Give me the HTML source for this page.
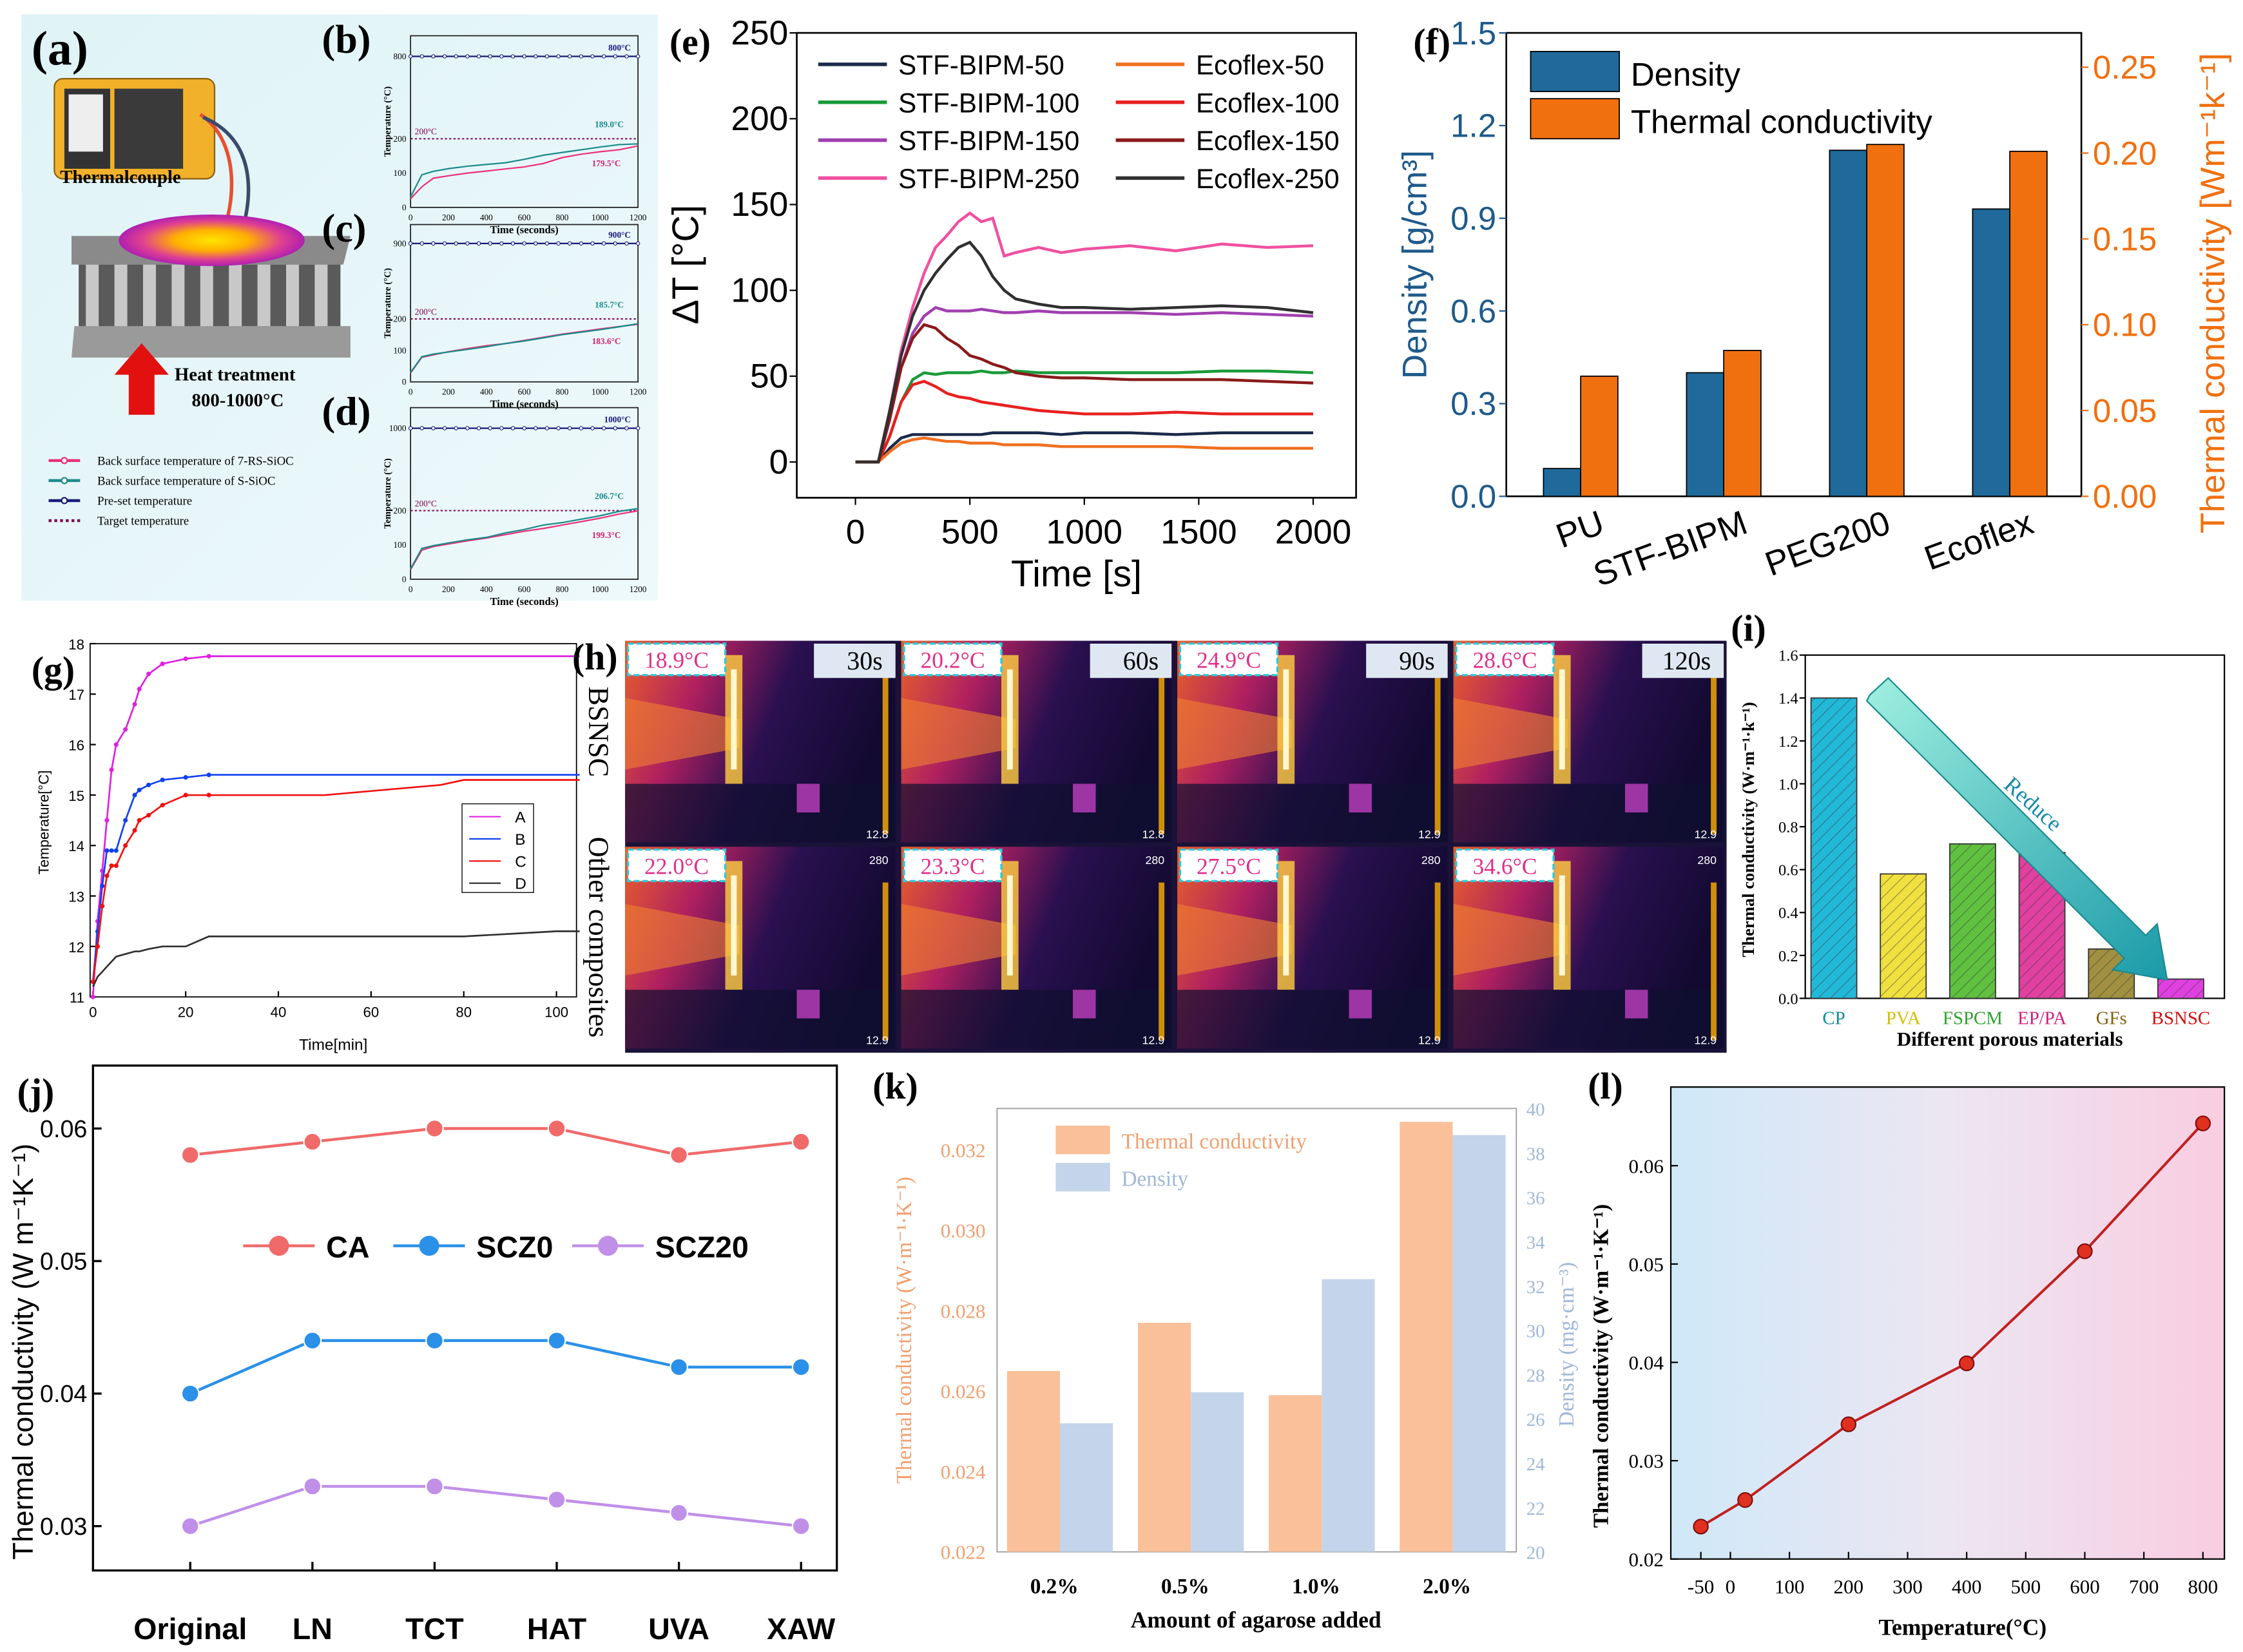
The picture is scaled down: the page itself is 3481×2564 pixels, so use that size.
<!DOCTYPE html>
<html><head><meta charset="utf-8"><style>
html,body{margin:0;padding:0;background:#fff}
svg{display:block}
text{font-family:"Liberation Sans",sans-serif}
.serif{font-family:"Liberation Serif",serif}
</style></head><body>
<svg id="fig" xmlns="http://www.w3.org/2000/svg" width="3481" height="2564" viewBox="0 0 1568 1155" preserveAspectRatio="none">
<defs>
<linearGradient id="bgA" x1="0" y1="0" x2="1" y2="1"><stop offset="0" stop-color="#dff3f6"/><stop offset="1" stop-color="#eef9fb"/></linearGradient>
<radialGradient id="hot" cx="0.5" cy="0.5" r="0.5"><stop offset="0" stop-color="#ffe600"/><stop offset="0.4" stop-color="#ffb000"/><stop offset="0.75" stop-color="#e04090"/><stop offset="1" stop-color="#b020b0"/></radialGradient>
<linearGradient id="bgL" x1="0" y1="0" x2="1" y2="0"><stop offset="0" stop-color="#cfe8f8"/><stop offset="0.5" stop-color="#ece6f2"/><stop offset="1" stop-color="#f9cde0"/></linearGradient>
<linearGradient id="therm" x1="0" y1="0" x2="1" y2="0.3"><stop offset="0" stop-color="#e8602a"/><stop offset="0.3" stop-color="#b02060"/><stop offset="0.6" stop-color="#2a1050"/><stop offset="1" stop-color="#120a30"/></linearGradient>
<linearGradient id="arrowG" x1="0" y1="0" x2="1" y2="1"><stop offset="0" stop-color="#a0f0e0"/><stop offset="1" stop-color="#1a9aa8"/></linearGradient>
<pattern id="hatch" width="6" height="6" patternUnits="userSpaceOnUse" patternTransform="rotate(45)"><line x1="0" y1="0" x2="0" y2="6" stroke="#333" stroke-width="1" opacity="0.5"/></pattern>
</defs>
<g id="root"></g>
</svg>
<script>
// ---------- DATA ----------
const eTime=[0,100,150,200,250,300,350,400,450,500,550,600,650,700,800,900,1000,1200,1400,1600,1800,2000];
const eS50=[0,0,8,14,16,16,16,16,16,16,16,17,17,17,17,16,17,17,16,17,17,17];
const eS100=[0,0,15,35,48,52,51,52,52,52,53,52,52,53,52,52,52,52,52,53,53,52];
const eS150=[0,0,25,55,75,85,90,88,88,88,89,88,87,87,88,87,87,87,86,87,86,85];
const eS250=[0,0,30,65,90,110,125,132,140,145,140,142,120,122,125,122,124,126,123,127,125,126];
const eE50=[0,0,6,11,13,14,13,12,12,11,11,11,10,10,10,9,9,9,9,8,8,8];
const eE100=[0,0,15,35,45,47,44,40,38,37,35,34,33,32,30,29,28,28,29,28,28,28];
const eE150=[0,0,25,55,72,80,78,72,68,62,60,57,55,52,50,49,49,48,48,48,47,46];
const eE250=[0,0,30,62,85,100,110,118,125,128,120,108,100,95,92,90,90,89,90,91,90,87];
const eYTicks=[0,50,100,150,200,250];
const eXTicks=[0,500,1000,1500,2000];
const fCats=["PU","STF-BIPM","PEG200","Ecoflex"];
const fDensity=[0.09,0.40,1.12,0.93];
const fCond=[0.070,0.085,0.205,0.201];
const fLTicks=["0.0","0.3","0.6","0.9","1.2","1.5"];
const fRTicks=["0.00","0.05","0.10","0.15","0.20","0.25"];
const gTime=[0,1,2,3,4,5,7,9,10,12,15,20,25,50,75,80,100,105];
const gA=[11,12.5,13.5,14.5,15.5,16,16.3,16.8,17.1,17.4,17.6,17.7,17.75,17.75,17.75,17.75,17.75,17.75];
const gB=[11.3,12.3,13.2,13.9,13.9,13.9,14.5,15,15.1,15.2,15.3,15.35,15.4,15.4,15.4,15.4,15.4,15.4];
const gC=[11.3,12,12.8,13.4,13.6,13.6,14,14.3,14.5,14.6,14.8,15,15,15,15.2,15.3,15.3,15.3];
const gD=[11.2,11.4,11.5,11.6,11.7,11.8,11.85,11.9,11.9,11.95,12,12,12.2,12.2,12.2,12.2,12.3,12.3];
const gYTicks=[11,12,13,14,15,16,17,18];
const gXTicks=[0,20,40,60,80,100];
const iCats=["CP","PVA","FSPCM","EP/PA","GFs","BSNSC"];
const iVals=[1.40,0.58,0.72,0.68,0.23,0.09];
const iYTicks=["0.0","0.2","0.4","0.6","0.8","1.0","1.2","1.4","1.6"];
const jCats=["Original","LN","TCT","HAT","UVA","XAW"];
const jCA=[0.058,0.059,0.060,0.060,0.058,0.059];
const jSCZ0=[0.040,0.044,0.044,0.044,0.042,0.042];
const jSCZ20=[0.030,0.033,0.033,0.032,0.031,0.030];
const jYTicks=[0.03,0.04,0.05,0.06];
const kCats=["0.2%","0.5%","1.0%","2.0%"];
const kCond=[0.0265,0.0277,0.0259,0.0327];
const kDens=[25.8,27.2,32.3,38.8];
const kLTicks=[0.022,0.024,0.026,0.028,0.030,0.032];
const kRTicks=[20,22,24,26,28,30,32,34,36,38,40];
const lTemp=[-50,25,200,400,600,800];
const lVals=[0.0233,0.0260,0.0337,0.0399,0.0513,0.0643];
const lXTicks=[-50,0,100,200,300,400,500,600,700,800];
const lYTicks=[0.02,0.03,0.04,0.05,0.06];
const hLabels=["18.9°C","20.2°C","24.9°C","28.6°C","22.0°C","23.3°C","27.5°C","34.6°C"];
const hTimes=["30s","60s","90s","120s"];

// ---------- HELPERS ----------
const NS="http://www.w3.org/2000/svg";
const root=document.getElementById('root');
function mk(tag,attrs,parent){const e=document.createElementNS(NS,tag);for(const k in attrs)e.setAttribute(k,attrs[k]);(parent||root).appendChild(e);return e;}
function txt(s,x,y,size,attrs,parent){const a=Object.assign({x:x,y:y,'font-size':size},attrs||{});const e=mk('text',a,parent);e.textContent=s;return e;}
function pathOf(xs,ys,fx,fy){return xs.map((v,i)=>(i?'L':'M')+fx(v).toFixed(1)+' '+fy(ys[i]).toFixed(1)).join(' ');}
function scale(d0,d1,r0,r1){return v=>r0+(v-d0)/(d1-d0)*(r1-r0);}

// ---------- PANEL A-D ----------
let e;
e=mk('rect',{x:15,y:10,width:445,height:410,fill:'url(#bgA)'});


e=txt('(a)',22,45,34,{'font-weight':'bold',class:'serif'});


e=mk('rect',{x:38,y:55,width:112,height:70,rx:6,fill:'#f2b12a',stroke:'#8a6010'});


mk('rect',{x:45,y:62,width:32,height:56,fill:'#333'});
mk('rect',{x:48,y:66,width:24,height:40,fill:'#eee'});
mk('rect',{x:80,y:62,width:48,height:56,fill:'#3a3a3a'});
mk('path',{d:'M140 80 C170 100 165 150 150 175',stroke:'#e85030',fill:'none','stroke-width':2.5});
mk('path',{d:'M142 82 C185 100 175 150 165 173',stroke:'#3a4a6a',fill:'none','stroke-width':2.5});
e=txt('Thermalcouple',42,128,13,{'font-weight':'bold',class:'serif'});


e=mk('path',{d:'M50 165 L245 165 L240 185 L50 185 Z',fill:'#8a8a8a'});


mk('path',{d:'M55 185 L238 185 L238 245 L55 245 Z',fill:'#5a5a5a'});
for(let i=0;i<9;i++)mk('rect',{x:60+i*20,y:185,width:9,height:58,fill:'#c8c8c8'});
mk('path',{d:'M52 228 L245 228 L245 250 L50 250 Z',fill:'#9a9a9a'});
mk('ellipse',{cx:148,cy:168,rx:65,ry:18,fill:'url(#hot)'});
e=mk('path',{d:'M90 290 L90 262 L80 262 L99 240 L118 262 L108 262 L108 290 Z',fill:'#e31010'});


e=txt('Heat treatment',122,266,13,{'font-weight':'bold',class:'serif'});


txt('800-1000°C',134,284,13,{'font-weight':'bold',class:'serif'});
const legA=[['#e8307a','Back surface temperature of 7-RS-SiOC',''],['#1a8a8a','Back surface temperature of S-SiOC',''],['#1a1a7a','Pre-set temperature',''],['#800050','Target temperature','2 2']];
legA.forEach((l,i)=>{const y=322+i*14;
 e=mk('line',{x1:34,y1:y,x2:56,y2:y,stroke:l[0],'stroke-width':2,'stroke-dasharray':l[2]});
 
 
 if(!l[2])mk('circle',{cx:45,cy:y,r:2,fill:'#fff',stroke:l[0]});
 e=txt(l[1],68,y+3,8.5,{class:'serif'});
 
 
});
const small=[{lab:'(b)',y0:25,y1:145,top:900,pre:800,end1:'189.0°C',end2:'179.5°C',cur1:[30,95,105,113,120,125,130,140,152,160,168,176,183,185],cur2:[25,60,85,92,100,106,112,118,128,145,155,162,168,179]},
{lab:'(c)',y0:157,y1:267,top:1000,pre:900,end1:'185.7°C',end2:'183.6°C',cur1:[30,80,88,95,103,112,122,130,140,150,158,166,175,185],cur2:[28,78,86,96,106,115,122,132,142,152,160,168,176,183]},
{lab:'(d)',y0:285,y1:405,top:1000,pre:1000,end1:'206.7°C',end2:'199.3°C',cur1:[30,90,98,106,115,122,135,145,158,165,175,185,198,206],cur2:[28,85,95,103,112,120,130,140,148,158,168,178,190,199]}];
const smallT=[0,60,120,200,300,400,500,600,700,800,900,1000,1100,1200];
small.forEach((p,k)=>{
 const x0=287,x1=446,H=p.y1-p.y0;
 e=mk('rect',{x:x0,y:p.y0,width:x1-x0,height:H,fill:'none',stroke:'#222','stroke-width':0.8});
 
 
 e=txt(p.lab,225,p.y0+12,28,{'font-weight':'bold',class:'serif'});
 
 
 const lo=v=>p.y1-v/300*H*0.6;
 const hi=p.y0+H*0.12;
 const fx=scale(0,1200,x0,x1);
 [0,100,200].forEach(t=>{txt(String(t),x0-3,lo(t)+2,6,{'text-anchor':'end',class:'serif'});});
 txt(String(p.pre),x0-3,hi+2,6,{'text-anchor':'end',class:'serif'});
 [0,200,400,600,800,1000,1200].forEach(t=>txt(String(t),fx(t),p.y1+9,6,{'text-anchor':'middle',class:'serif'}));
 txt('Time (seconds)',(x0+x1)/2,p.y1+18,7.5,{'text-anchor':'middle','font-weight':'bold',class:'serif'});
 txt('Temperature (°C)',0,0,6.5,{transform:`translate(${x0-14},${(p.y0+p.y1)/2}) rotate(-90)`,'text-anchor':'middle','font-weight':'bold',class:'serif'});
 e=mk('line',{x1:x0,y1:hi,x2:x1,y2:hi,stroke:'#1a1a7a','stroke-width':1});
 
 
 for(let t=0;t<=1200;t+=60)mk('circle',{cx:fx(t),cy:hi,r:1.2,fill:'#fff',stroke:'#1a1a7a','stroke-width':0.5});
 txt(p.pre+'°C',x1-5,hi-4,6,{'text-anchor':'end',fill:'#1a1a7a','font-weight':'bold',class:'serif'});
 mk('line',{x1:x0,y1:lo(200),x2:x1,y2:lo(200),stroke:'#800050','stroke-dasharray':'1.5 1.5','stroke-width':0.9});
 txt('200°C',x0+3,lo(200)-3,6,{fill:'#800050',class:'serif'});
 e=mk('path',{d:pathOf(smallT,p.cur2,fx,lo),stroke:'#e8307a',fill:'none','stroke-width':1});
 
 
 e=mk('path',{d:pathOf(smallT,p.cur1,fx,lo),stroke:'#1a8a8a',fill:'none','stroke-width':1});
 
 
 txt(p.end1,x1-10,lo(200)-8,6,{'text-anchor':'end',fill:'#1a8a8a','font-weight':'bold',class:'serif'});
 txt(p.end2,x1-12,lo(120),6,{'text-anchor':'end',fill:'#d02070','font-weight':'bold',class:'serif'});
});

// ---------- PANEL E ----------
{const x0=557,x1=948,y0=23,y1=348;
 const fx=scale(0,2000,598,918), fy=scale(0,250,323,23);
 e=mk('rect',{x:x0,y:y0,width:x1-x0,height:y1-y0,fill:'none',stroke:'#000','stroke-width':1.2});
 
 
 e=txt('(e)',468,38,26,{'font-weight':'bold',class:'serif'});
 
 
 eYTicks.forEach(t=>{mk('line',{x1:x0,y1:fy(t),x2:x0-5,y2:fy(t),stroke:'#000'});
  e=txt(String(t),x0-6,fy(t)+8,24,{'text-anchor':'end'});
  
  });
 eXTicks.forEach(t=>{mk('line',{x1:fx(t),y1:y1,x2:fx(t),y2:y1+5,stroke:'#000'});
  e=txt(String(t),fx(t),y1+32,24,{'text-anchor':'middle'});
  
  });
 e=txt('Time [s]',(x0+x1)/2,410,26,{'text-anchor':'middle'});
 
 
 e=txt('ΔT [°C]',0,0,26,{transform:'translate(488,185) rotate(-90)','text-anchor':'middle'});
 
 
 const ser=[[eS50,'#1a2a4a','STF-BIPM-50'],[eS100,'#1a9a3a','STF-BIPM-100'],[eS150,'#a040b0','STF-BIPM-150'],[eS250,'#f050a0','STF-BIPM-250'],[eE50,'#f07020','Ecoflex-50'],[eE100,'#e82020','Ecoflex-100'],[eE150,'#8a1a1a','Ecoflex-150'],[eE250,'#303030','Ecoflex-250']];
 ser.forEach((s,i)=>{
  e=mk('path',{d:pathOf(eTime,s[0],fx,fy),stroke:s[1],fill:'none','stroke-width':2});
  
  
  const lx=i<4?572:780, ly=45+(i%4)*26.5;
  e=mk('line',{x1:lx,y1:ly,x2:lx+48,y2:ly,stroke:s[1],'stroke-width':2.5});
  
  
  e=txt(s[2],lx+56,ly+7,19);
  
  
 });
}

// ---------- PANEL F ----------
{const x0=1053,x1=1455,y0=23,y1=347;
 const fy=scale(0,1.5,347,23), fr=scale(0,0.25,347,47);
 e=mk('rect',{x:x0,y:y0,width:x1-x0,height:y1-y0,fill:'none',stroke:'#000','stroke-width':1.2});
 
 
 e=txt('(f)',988,38,26,{'font-weight':'bold',class:'serif'});
 
 
 fLTicks.forEach(t=>{const y=fy(+t);mk('line',{x1:x0,y1:y,x2:x0-5,y2:y,stroke:'#1f5a8a'});
  e=txt(t,x0-7,y+8,23,{'text-anchor':'end',fill:'#1f5a8a'});
  
  });
 fRTicks.forEach(t=>{const y=fr(+t);mk('line',{x1:x1,y1:y,x2:x1+5,y2:y,stroke:'#f07010'});
  e=txt(t,x1+8,y+8,23,{fill:'#f07010'});
  
  });
 e=txt('Density [g/cm³]',0,0,24,{transform:'translate(997,185) rotate(-90)','text-anchor':'middle',fill:'#1f5a8a'});
 
 
 e=txt('Thermal conductivity [Wm⁻¹k⁻¹]',0,0,24,{transform:'translate(1555,205) rotate(-90)','text-anchor':'middle',fill:'#f07010'});
 
 
 fCats.forEach((c,i)=>{const cx=1105+i*100;
  e=mk('rect',{x:cx-26,y:fy(fDensity[i]),width:26,height:347-fy(fDensity[i]),fill:'#1f6a9a',stroke:'#000','stroke-width':0.8});
  
  
  e=mk('rect',{x:cx,y:fr(fCond[i]),width:26,height:347-fr(fCond[i]),fill:'#f07010',stroke:'#000','stroke-width':0.8});
  
  
  e=txt(c,0,0,24,{transform:`translate(${cx+18},${372}) rotate(-20)`,'text-anchor':'end'});
  
  
 });
 [['#1f6a9a','Density'],['#f07010','Thermal conductivity']].forEach((l,i)=>{
  e=mk('rect',{x:1070,y:36+i*33,width:62,height:28,fill:l[0],stroke:'#000','stroke-width':0.8});
  
  
  e=txt(l[1],1140,60+i*33,23);
  
  
 });
}

// ---------- PANEL G ----------
{const x0=63,x1=403,y0=450,y1=697;
 const fx=scale(0,100,65,389), fy=scale(11,18,697,450);
 e=mk('rect',{x:x0,y:y0,width:x1-x0,height:y1-y0,fill:'none',stroke:'#000','stroke-width':0.8});
 
 
 e=txt('(g)',22,477,26,{'font-weight':'bold',class:'serif'});
 
 
 gYTicks.forEach(t=>{mk('line',{x1:x0,y1:fy(t),x2:x0+4,y2:fy(t),stroke:'#000'});
  e=txt(String(t),x0-4,fy(t)+4,10,{'text-anchor':'end'});
  
  });
 gXTicks.forEach(t=>{mk('line',{x1:fx(t),y1:y1,x2:fx(t),y2:y1-4,stroke:'#000'});
  e=txt(String(t),fx(t),y1+14,10,{'text-anchor':'middle'});
  
  });
 e=txt('Time[min]',233,734,11,{'text-anchor':'middle'});
 
 
 e=txt('Temperature[°C]',0,0,10,{transform:'translate(34,575) rotate(-90)','text-anchor':'middle'});
 
 
 const gs=[[gA,'#e020e0','A','v'],[gB,'#1040f0','B','^'],[gC,'#f01010','C','o'],[gD,'#303030','D','']];
 gs.forEach((s,i)=>{
  e=mk('path',{d:pathOf(gTime,s[0],fx,fy),stroke:s[1],fill:'none','stroke-width':1.2});
  
  
  if(s[3])gTime.forEach((t,j)=>{if(t<=30)mk('circle',{cx:fx(t),cy:fy(s[0][j]),r:1.6,fill:s[1]});});
  const ly=571+i*15.5;
  mk('line',{x1:328,y1:ly,x2:350,y2:ly,stroke:s[1],'stroke-width':1});
  e=txt(s[2],360,ly+4,11);
  
  
 });
 e=mk('rect',{x:323,y:562,width:50,height:62,fill:'none',stroke:'#000','stroke-width':0.6});
 
 
}

// ---------- PANEL H ----------
{e=mk('rect',{x:437,y:448,width:770,height:288,fill:'#1a1238'});
 
 
 e=txt('(h)',400,468,26,{'font-weight':'bold',class:'serif'});
 
 
 e=txt('BSNSC',0,0,20,{transform:'translate(412,480) rotate(90)',class:'serif'});
 
 
 e=txt('Other composites',0,0,20,{transform:'translate(412,585) rotate(90)',class:'serif'});
 
 
 for(let r=0;r<2;r++)for(let c=0;c<4;c++){
  const x=437+c*193,y=448+r*144;
  e=mk('rect',{x:x,y:y,width:189,height:141,fill:'url(#therm)'});
  
  
  mk('path',{d:`M${x} ${y+40} L${x+80} ${y+55} L${x+80} ${y+75} L${x} ${y+90} Z`,fill:'#f08030',opacity:0.6});
  mk('rect',{x:x+70,y:y+10,width:12,height:90,fill:'#ffd040',opacity:0.8});
  mk('rect',{x:x+74,y:y+20,width:4,height:70,fill:'#fff8d0'});
  mk('rect',{x:x,y:y+100,width:189,height:41,fill:'#101030',opacity:0.7});
  mk('rect',{x:x+120,y:y+100,width:16,height:20,fill:'#c040c0',opacity:0.8});
  mk('rect',{x:x+180,y:y+25,width:4,height:110,fill:'#ffb000',opacity:0.8});
  e=mk('rect',{x:x+2,y:y+2,width:68,height:22,fill:'#fff',stroke:'#30c8d8','stroke-width':1.5,'stroke-dasharray':'4 2'});
  
  
  e=txt(hLabels[r*4+c],x+36,y+19,16,{'text-anchor':'middle',fill:'#e0308a',class:'serif'});
  
  
  if(r===0){e=mk('rect',{x:x+132,y:y+2,width:57,height:24,fill:'#dfe8f2'});
   
   
   e=txt(hTimes[c],x+180,y+20,18,{'text-anchor':'end',class:'serif'});
   
   }
  else txt('280',x+184,y+12,8,{'text-anchor':'end',fill:'#fff'});
  txt(r===0&&c<2?'12.8':'12.9',x+184,y+138,8,{'text-anchor':'end',fill:'#fff'});
 }
}

// ---------- PANEL I ----------
{const x0=1262,x1=1555,y0=458,y1=698;
 const fy=scale(0,1.6,698,458);
 e=mk('rect',{x:x0,y:y0,width:x1-x0,height:y1-y0,fill:'none',stroke:'#000','stroke-width':1});
 
 
 e=txt('(i)',1210,448,26,{'font-weight':'bold',class:'serif'});
 
 
 iYTicks.forEach(t=>{mk('line',{x1:x0,y1:fy(+t),x2:x0-4,y2:fy(+t),stroke:'#000'});
  e=txt(t,x0-5,fy(+t)+4,11,{'text-anchor':'end',class:'serif'});
  
  });
 e=txt('Thermal conductivity (W·m⁻¹·k⁻¹)',0,0,12,{transform:'translate(1226,580) rotate(-90)','text-anchor':'middle','font-weight':'bold',class:'serif'});
 
 
 e=txt('Different porous materials',1405,731,14,{'text-anchor':'middle','font-weight':'bold',class:'serif'});
 
 
 const ic=['#22b8d8','#f0e040','#60c040','#e040a0','#a09040','#e040e0'];
 const itc=['#108a9a','#d0c000','#30a030','#d02080','#806010','#d01010'];
 iCats.forEach((c,i)=>{const cx=1282+i*48.5;
  e=mk('rect',{x:cx-16,y:fy(iVals[i]),width:32,height:698-fy(iVals[i]),fill:ic[i],stroke:'#333','stroke-width':0.8});
  
  
  mk('rect',{x:cx-16,y:fy(iVals[i]),width:32,height:698-fy(iVals[i]),fill:'url(#hatch)'});
  e=txt(c,cx,716,13,{'text-anchor':'middle',fill:itc[i],class:'serif'});
  
  
 });
 e=mk('path',{d:'M1307 486 L1320 474 L1500 654 L1508 646 L1515 685 L1477 678 L1485 670 L1305 490 Z',fill:'url(#arrowG)',stroke:'#1a8a90'});
 
 
 e=txt('Reduce',0,0,16,{transform:'translate(1400,550) rotate(42)',fill:'#1a8aa8',class:'serif'});
 
 
}

// ---------- PANEL J ----------
{const x0=65,x1=585,y0=745,y1=1098;
 const fy=scale(0.03,0.06,1067,789);
 e=mk('rect',{x:x0,y:y0,width:x1-x0,height:y1-y0,fill:'none',stroke:'#000','stroke-width':1.5});
 
 
 e=txt('(j)',12,772,26,{'font-weight':'bold',class:'serif'});
 
 
 jYTicks.forEach(t=>{mk('line',{x1:x0,y1:fy(t),x2:x0+6,y2:fy(t),stroke:'#000','stroke-width':1.5});
  e=txt(t.toFixed(2),x0-4,fy(t)+6,17,{'text-anchor':'end'});
  
  });
 e=txt('Thermal conductivity (W m⁻¹K⁻¹)',0,0,20,{transform:'translate(23,945) rotate(-90)','text-anchor':'middle'});
 
 
 const fx=i=>133+i*85.4;
 jCats.forEach((c,i)=>{mk('line',{x1:fx(i),y1:y1,x2:fx(i),y2:y1-6,stroke:'#000','stroke-width':1.5});
  e=txt(c,fx(i),1146,21,{'text-anchor':'middle','font-weight':'bold'});
  
  });
 const js=[[jCA,'#f06a6a','CA'],[jSCZ0,'#2a90e8','SCZ0'],[jSCZ20,'#c090e8','SCZ20']];
 js.forEach((s,k)=>{
  e=mk('path',{d:s[0].map((v,i)=>(i?'L':'M')+fx(i)+' '+fy(v)).join(' '),stroke:s[1],fill:'none','stroke-width':2});
  
  
  s[0].forEach((v,i)=>{e=mk('circle',{cx:fx(i),cy:fy(v),r:6,fill:s[1],stroke:'#fff','stroke-width':1});
   
   });
  const lx=[170,275,400][k];
  mk('line',{x1:lx,y1:871,x2:lx+50,y2:871,stroke:s[1],'stroke-width':2});
  mk('circle',{cx:lx+25,cy:871,r:7,fill:s[1]});
  e=txt(s[2],lx+58,879,21,{'font-weight':'bold'});
  
  
 });
}

// ---------- PANEL K ----------
{const x0=697,x1=1060,y0=775,y1=1085;
 const fy=scale(0.022,0.032,1085,804), fr=scale(20,40,1085,775);
 e=mk('rect',{x:x0,y:y0,width:x1-x0,height:y1-y0,fill:'none',stroke:'#999','stroke-width':0.8});
 
 
 e=txt('(k)',610,768,26,{'font-weight':'bold',class:'serif'});
 
 
 kLTicks.forEach(t=>{e=txt(t.toFixed(3),x0-8,fy(t)+5,14,{'text-anchor':'end',fill:'#f0a070',class:'serif'});
  
  });
 kRTicks.forEach(t=>{e=txt(String(t),x1+7,fr(t)+5,13,{fill:'#a0b8d8',class:'serif'});
  
  });
 e=txt('Thermal conductivity (W·m⁻¹·K⁻¹)',0,0,15,{transform:'translate(637,930) rotate(-90)','text-anchor':'middle',fill:'#f0a070',class:'serif'});
 
 
 e=txt('Density (mg·cm⁻³)',0,0,15,{transform:'translate(1100,940) rotate(-90)','text-anchor':'middle',fill:'#a0b8d8',class:'serif'});
 
 
 kCats.forEach((c,i)=>{const cx=737+i*91.5;
  e=mk('rect',{x:cx-33,y:fy(kCond[i]),width:37,height:1085-fy(kCond[i]),fill:'#f9c09a'});
  
  
  e=mk('rect',{x:cx+4,y:fr(kDens[i]),width:37,height:1085-fr(kDens[i]),fill:'#c4d4ea'});
  
  
  e=txt(c,cx,1114,15,{'text-anchor':'middle','font-weight':'bold',class:'serif'});
  
  
 });
 e=txt('Amount of agarose added',878,1138,16,{'text-anchor':'middle','font-weight':'bold',class:'serif'});
 
 
 [['#f9c09a','Thermal conductivity','#f0a070'],['#c4d4ea','Density','#a0b8d8']].forEach((l,i)=>{
  mk('rect',{x:738,y:787+i*26,width:38,height:20,fill:l[0]});
  e=txt(l[1],784,803+i*26,15,{fill:l[2],class:'serif'});
  
  
 });
}

// ---------- PANEL L ----------
{const x0=1168,x1=1555,y0=760,y1=1090;
 const fx=scale(-50,800,1189,1540), fy=scale(0.02,0.06,1090,815);
 e=mk('rect',{x:x0,y:y0,width:x1-x0,height:y1-y0,fill:'url(#bgL)',stroke:'#000','stroke-width':1});
 
 
 e=txt('(l)',1110,768,26,{'font-weight':'bold',class:'serif'});
 
 
 lYTicks.forEach(t=>{mk('line',{x1:x0,y1:fy(t),x2:x0+5,y2:fy(t),stroke:'#000'});
  e=txt(t.toFixed(2),x0-5,fy(t)+5,14,{'text-anchor':'end',class:'serif'});
  
  });
 lXTicks.forEach(t=>{mk('line',{x1:fx(t),y1:y1,x2:fx(t),y2:y1-5,stroke:'#000'});
  e=txt(String(t),fx(t),1114,14,{'text-anchor':'middle',class:'serif'});
  
  });
 e=txt('Temperature(°C)',1372,1143,16,{'text-anchor':'middle','font-weight':'bold',class:'serif'});
 
 
 e=txt('Thermal conductivity (W·m⁻¹·K⁻¹)',0,0,15,{transform:'translate(1124,955) rotate(-90)','text-anchor':'middle','font-weight':'bold',class:'serif'});
 
 
 e=mk('path',{d:pathOf(lTemp,lVals,fx,fy),stroke:'#c02020',fill:'none','stroke-width':1.8});
 
 
 lTemp.forEach((t,i)=>{e=mk('circle',{cx:fx(t),cy:fy(lVals[i]),r:5,fill:'#e03020',stroke:'#801010'});
  
  });
}
</script>
</body></html>
